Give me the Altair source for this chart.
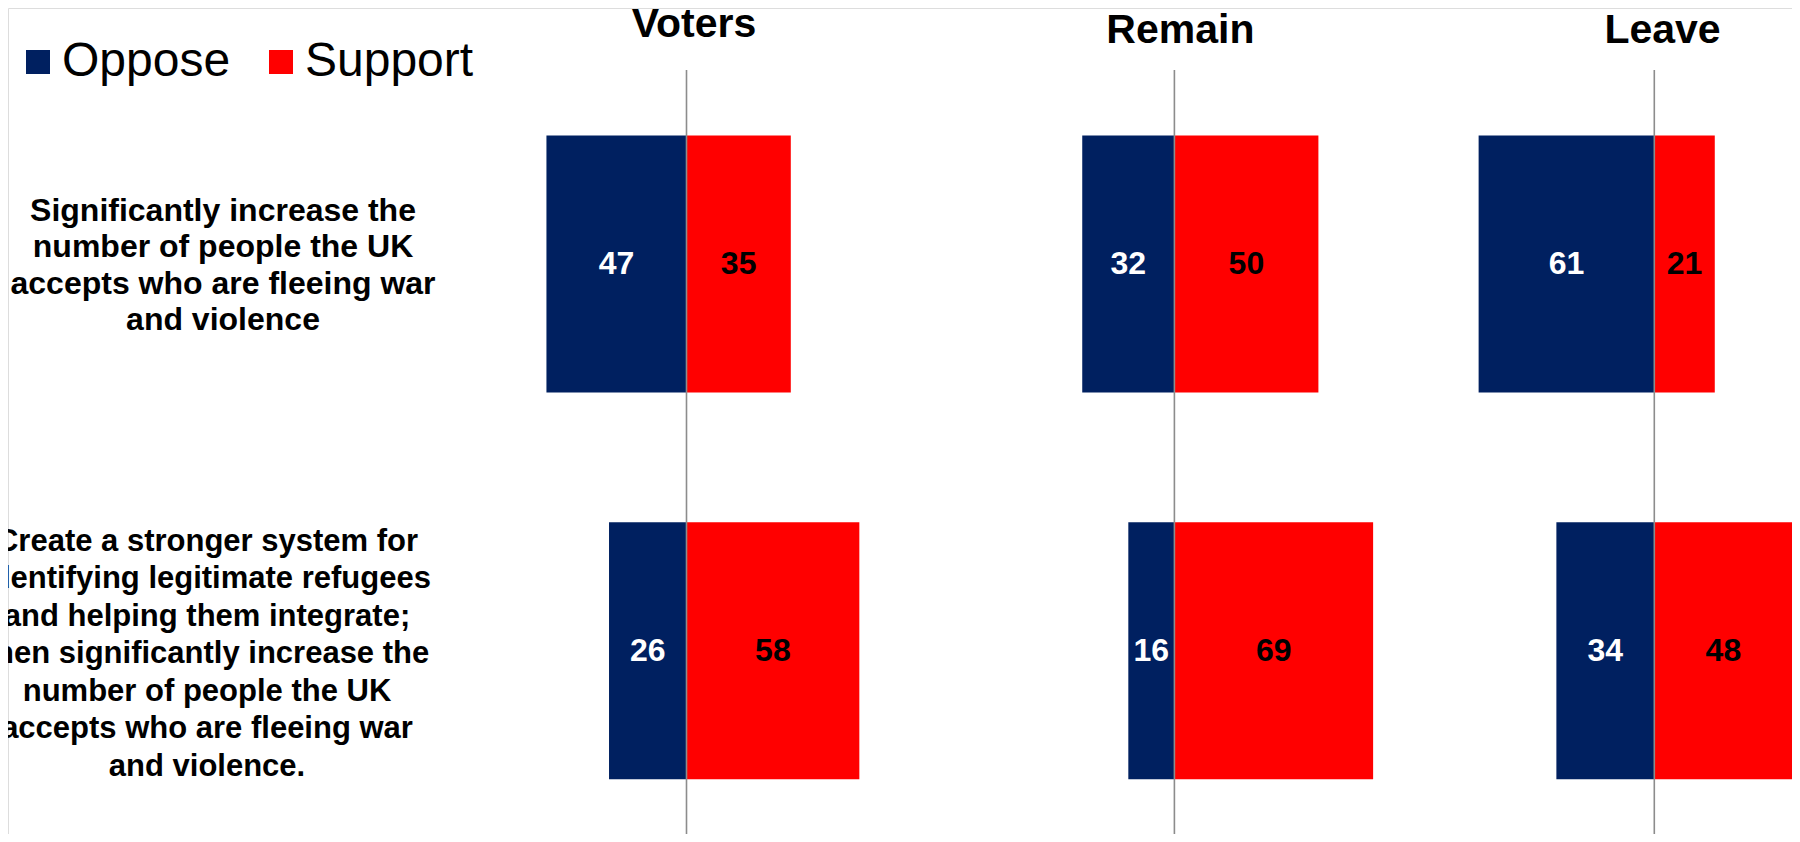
import altair as alt
import pandas as pd

# ---- data ----
groups = ["Voters", "Remain", "Leave"]
questions = ["Q1", "Q2"]
question_text = [
    "Significantly increase the\nnumber of people the UK\naccepts who are fleeing war\nand violence",
    "Create a stronger system for\nidentifying legitimate refugees\nand helping them integrate;\nthen significantly increase the\nnumber of people the UK\naccepts who are fleeing war\nand violence.",
]
stances = ["Oppose", "Support"]
oppose_q1 = [47, 32, 61]
support_q1 = [35, 50, 21]
oppose_q2 = [26, 16, 34]
support_q2 = [58, 69, 48]
colors = ["#002060", "#FF0000"]

rows = []
for qi, (opp, sup) in enumerate([(oppose_q1, support_q1), (oppose_q2, support_q2)]):
    for gi, g in enumerate(groups):
        for st, v in (("Oppose", opp[gi]), ("Support", sup[gi])):
            x0 = -v if st == "Oppose" else 0
            x1 = 0 if st == "Oppose" else v
            rows.append(dict(group=g, q=questions[qi], stance=st, value=v,
                             x0=x0, x1=x1, xm=(x0 + x1) / 2))
df = pd.DataFrame(rows)
qdf = pd.DataFrame({"q": questions, "text": question_text})

FONT = "Liberation Sans"
W, H = 1784, 826

yscale = alt.Scale(domain=questions, paddingInner=0.3356, paddingOuter=0.2355, align=0.6998)
color_scale = alt.Scale(domain=stances, range=colors)
legend = alt.Legend(orient="none", legendX=6, legendY=30, direction="horizontal", title=None,
                    symbolType="square", symbolSize=576, symbolStrokeWidth=0, symbolOpacity=1,
                    labelFontSize=48, labelFont=FONT, labelColor="black", labelOffset=0,
                    columnPadding=26, labelLimit=400, padding=0)

# zero-line position (px), px per unit, title dx, title baseline y
geom = {
    "Voters": (678.5, 2.98, 7.5, 29.3),
    "Remain": (1166.4, 2.88, 6.0, 34.7),
    "Leave": (1646.3, 2.88, 8.2, 34.7),
}

panels = []
for g in groups:
    z, s, tdx, ty = geom[g]
    xs = alt.Scale(domain=[-z / s, (W - z) / s], nice=False, zero=False)
    base = alt.Chart(df).transform_filter(alt.datum.group == g)
    bars = base.mark_bar().encode(
        x=alt.X("x0:Q", scale=xs, axis=None),
        x2="x1:Q",
        y=alt.Y("q:N", scale=yscale, axis=None),
        color=alt.Color("stance:N", scale=color_scale, legend=legend),
    )
    rule = alt.Chart(pd.DataFrame({"zero": [0]})).mark_rule(
        color="#8c8c8c", strokeWidth=1.6
    ).encode(
        x=alt.X("zero:Q", scale=xs, axis=None),
        y=alt.value(62),
        y2=alt.value(H),
    )
    labels = base.mark_text(font=FONT, fontSize=32, fontWeight="bold", baseline="middle").encode(
        x=alt.X("xm:Q", scale=xs, axis=None),
        y=alt.Y("q:N", scale=yscale, axis=None),
        text="value:Q",
        color=alt.condition(alt.datum.stance == "Oppose", alt.value("white"), alt.value("black")),
    )
    title = alt.Chart(pd.DataFrame({"group": [g], "zero": [0]})).mark_text(
        font=FONT, fontSize=41, fontWeight="bold", baseline="alphabetic", dx=tdx
    ).encode(
        x=alt.X("zero:Q", scale=xs, axis=None),
        y=alt.value(ty),
        text="group:N",
    )
    panels.append(alt.layer(bars, rule, labels, title))

q1 = alt.Chart(qdf).transform_filter(alt.datum.q == "Q1").mark_text(
    font=FONT, fontSize=32, fontWeight="bold", align="center", baseline="middle",
    lineBreak="\n", lineHeight=36.6, dy=-53.4
).encode(x=alt.value(215), y=alt.Y("q:N", scale=yscale, axis=None), text="text:N")
q2 = alt.Chart(qdf).transform_filter(alt.datum.q == "Q2").mark_text(
    font=FONT, fontSize=31, fontWeight="bold", align="center", baseline="middle",
    lineBreak="\n", lineHeight=37.5, dy=-109.2
).encode(x=alt.value(199), y=alt.Y("q:N", scale=yscale, axis=None), text="text:N")

chart = alt.layer(q1, q2, *panels).resolve_scale(x="independent").properties(
    width=W, height=H, autosize=alt.AutoSizeParams(type="none"), padding=0
).configure_view(stroke=None, strokeWidth=0).configure(background="white")

chart.save("out.html", embed_options={"renderer": "svg", "actions": False})
